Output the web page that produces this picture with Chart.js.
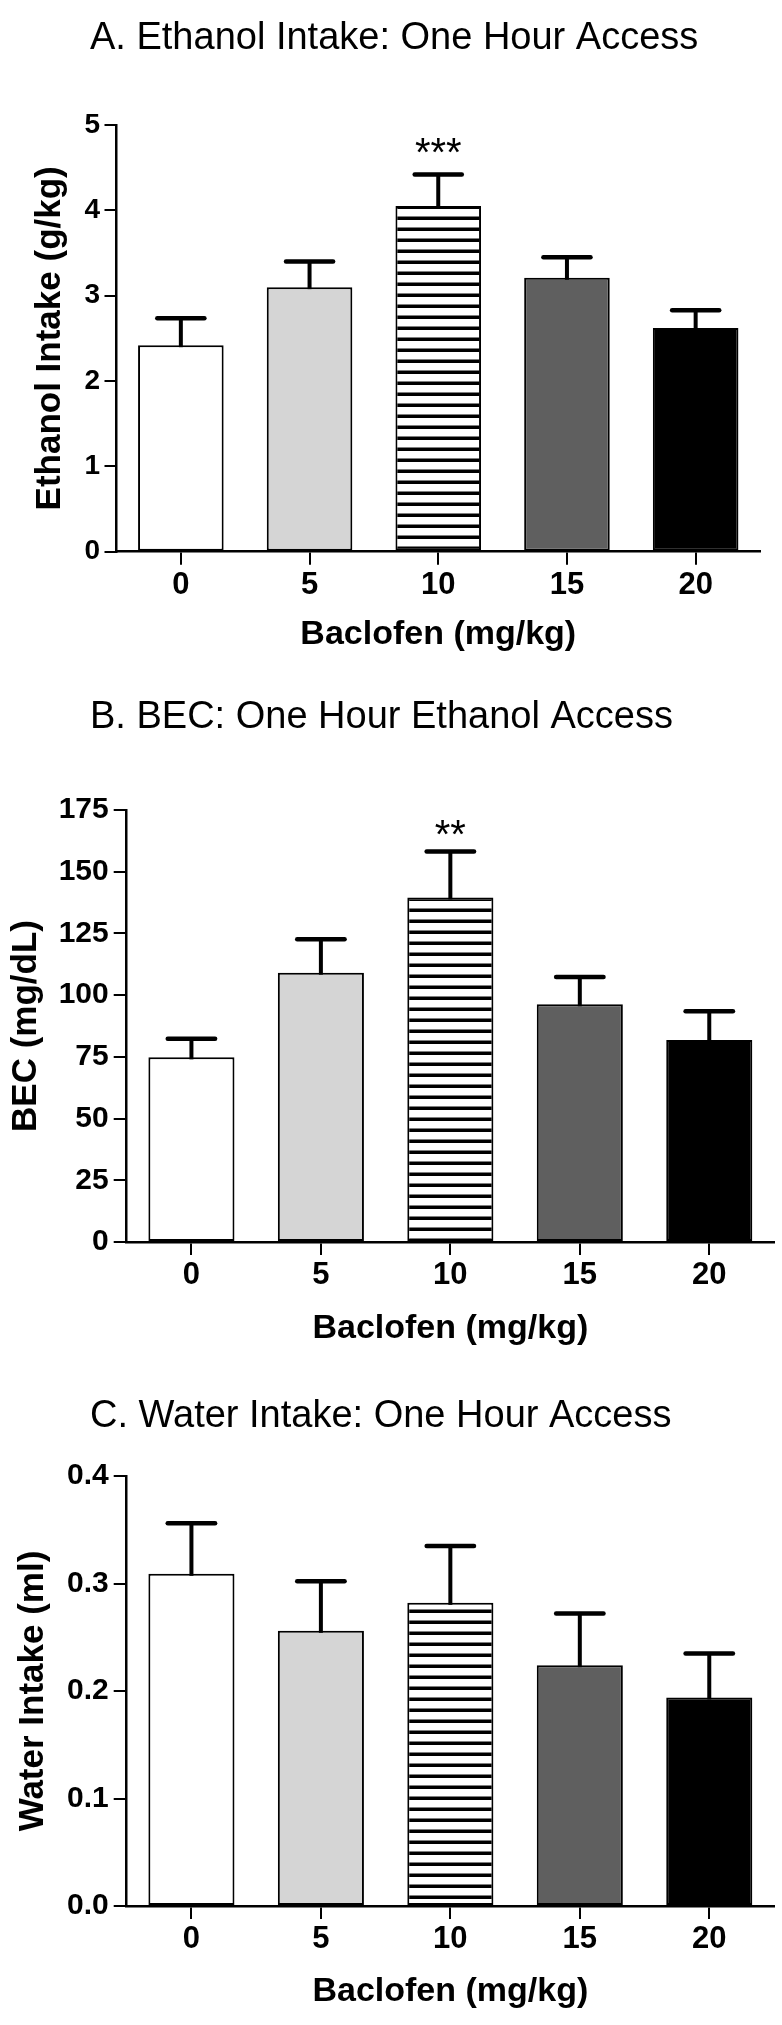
<!DOCTYPE html>
<html>
<head>
<meta charset="utf-8">
<title>Baclofen: ethanol intake, BEC and water intake</title>
<script src="https://cdn.jsdelivr.net/npm/chart.js@4/dist/chart.umd.min.js"></script>
<style>
  html, body { margin: 0; padding: 0; background: #fff; }
  .panel { position: absolute; left: 0; width: 782px; }
  #panelA { top: 0; height: 670px; }
  #panelB { top: 670px; height: 690px; }
  #panelC { top: 1360px; height: 665px; }
</style>
</head>
<body>
<div class="panel" id="panelA"><canvas id="chartA"></canvas></div>
<div class="panel" id="panelB"><canvas id="chartB"></canvas></div>
<div class="panel" id="panelC"><canvas id="chartC"></canvas></div>
<script>
// baclofen doses (x categories)
const doses = ["0", "5", "10", "15", "20"];

// A. ethanol intake (g/kg), mean and SEM
const ethanolMean = [2.42, 3.10, 4.05, 3.21, 2.62];
const ethanolSem = [0.315, 0.30, 0.37, 0.24, 0.21];
const ethanolStars = ["", "", "***", "", ""];
const ethanolTicks = [0, 1, 2, 3, 4, 5];

// B. blood ethanol concentration (mg/dL)
const becMean = [74.8, 109.1, 139.6, 96.3, 81.8];
const becSem = [7.5, 13.5, 18.6, 11.0, 11.7];
const becStars = ["", "", "**", "", ""];
const becTicks = [0, 25, 50, 75, 100, 125, 150, 175];

// C. water intake (ml)
const waterMean = [0.309, 0.256, 0.282, 0.224, 0.194];
const waterSem = [0.047, 0.046, 0.053, 0.048, 0.041];
const waterStars = ["", "", "", "", ""];
const waterTicks = [0, 0.1, 0.2, 0.3, 0.4];

const FONT = "'Liberation Sans', Helvetica, Arial, sans-serif";
const TITLE_X = 90;

// horizontal black stripes for the 10 mg/kg bar
function stripes(canvas) {
  const tile = document.createElement("canvas");
  tile.width = 4;
  tile.height = 11;
  const g = tile.getContext("2d");
  g.fillStyle = "#fff";
  g.fillRect(0, 0, 4, 11);
  g.fillStyle = "#000";
  g.fillRect(0, 7.5, 4, 3.5);
  return canvas.getContext("2d").createPattern(tile, "repeat");
}

// SEM bars (upper only) + significance stars
const errorBars = {
  id: "errorBars",
  afterDatasetsDraw(chart) {
    const { ctx } = chart;
    const y = chart.scales.y;
    const ds = chart.data.datasets[0];
    const meta = chart.getDatasetMeta(0);
    ctx.save();
    ctx.strokeStyle = "#000";
    ctx.fillStyle = "#000";
    meta.data.forEach((bar, i) => {
      const top = y.getPixelForValue(ds.data[i] + ds.sem[i]);
      const half = bar.width * 0.275;
      ctx.lineWidth = 4;
      ctx.lineCap = "butt";
      ctx.beginPath();
      ctx.moveTo(bar.x, bar.y + 2);
      ctx.lineTo(bar.x, top);
      ctx.stroke();
      ctx.lineWidth = 4.5;
      ctx.lineCap = "round";
      ctx.beginPath();
      ctx.moveTo(bar.x - half, top);
      ctx.lineTo(bar.x + half, top);
      ctx.stroke();
      if (ds.stars[i]) {
        ctx.font = "40px " + FONT;
        ctx.textAlign = "center";
        ctx.textBaseline = "alphabetic";
        ctx.fillText(ds.stars[i], bar.x, top - ds.starGap + 23);
      }
    });
    ctx.restore();
  }
};

// panel titles sit flush at the same left margin
const titleLeft = {
  id: "titleLeft",
  afterLayout(chart) {
    if (chart.titleBlock) chart.titleBlock.left = TITLE_X;
  }
};

function makeChart(id, cfg) {
  const canvas = document.getElementById(id);
  const fills = ["#ffffff", "#d5d5d5", stripes(canvas), "#5f5f5f", "#000000"];
  return new Chart(canvas, {
    type: "bar",
    data: {
      labels: doses,
      datasets: [{
        data: cfg.mean,
        sem: cfg.sem,
        stars: cfg.stars,
        starGap: cfg.starGap,
        backgroundColor: fills,
        borderColor: "#000",
        borderWidth: 2,
        borderSkipped: false,
        categoryPercentage: 1,
        barPercentage: 0.665
      }]
    },
    plugins: [errorBars, titleLeft],
    options: {
      responsive: true,
      maintainAspectRatio: false,
      devicePixelRatio: 1,
      animation: false,
      layout: { padding: { left: 0, right: cfg.right, top: 0, bottom: 0 } },
      plugins: {
        legend: { display: false },
        tooltip: { enabled: false },
        title: {
          display: true,
          text: cfg.title,
          align: "start",
          color: "#000",
          font: { family: FONT, size: 38, weight: "normal" },
          padding: { top: cfg.titleTop, bottom: cfg.titleBottom }
        }
      },
      scales: {
        x: {
          grid: { drawOnChartArea: false, drawTicks: true, tickLength: 13, color: "#000", lineWidth: 2, offset: false },
          border: { display: true, color: "#000", width: 2.5 },
          ticks: { color: "#000", padding: cfg.xTickPad, maxRotation: 0, font: { family: FONT, size: 31, weight: "bold" } },
          title: {
            display: true,
            text: "Baclofen (mg/kg)",
            color: "#000",
            font: { family: FONT, size: 34, weight: "bold" },
            padding: { top: 0, bottom: cfg.xTitlePad }
          },
          afterFit: s => { s.height = cfg.xHeight; }
        },
        y: {
          min: cfg.ticks[0],
          max: cfg.ticks[cfg.ticks.length - 1],
          afterBuildTicks: s => { s.ticks = cfg.ticks.map(v => ({ value: v })); },
          grid: { drawOnChartArea: false, drawTicks: true, tickLength: cfg.yTickLen, color: "#000", lineWidth: 2 },
          border: { display: true, color: "#000", width: 2.5 },
          ticks: { color: "#000", padding: cfg.yTickPad, font: { family: FONT, size: cfg.yTickFont, weight: "bold" }, callback: cfg.fmt },
          title: {
            display: true,
            text: cfg.yTitle,
            color: "#000",
            font: { family: FONT, size: 35, weight: "bold" },
            padding: { top: cfg.yTitlePad, bottom: 0 }
          },
          afterFit: s => { s.width = cfg.yWidth; }
        }
      }
    }
  });
}

makeChart("chartA", {
  title: "A. Ethanol Intake: One Hour Access",
  yTitle: "Ethanol Intake (g/kg)",
  mean: ethanolMean, sem: ethanolSem, stars: ethanolStars, ticks: ethanolTicks,
  fmt: v => String(v),
  starGap: 31,
  titleTop: 16.2, titleBottom: 63.2,
  yWidth: 116.5, yTitlePad: 29, yTickFont: 28, yTickPad: 4.5, yTickLen: 12,
  xHeight: 118.3, xTickPad: 1.7, xTitlePad: 14.6, right: 22
});

makeChart("chartB", {
  title: "B. BEC: One Hour Ethanol Access",
  yTitle: "BEC (mg/dL)",
  mean: becMean, sem: becSem, stars: becStars, ticks: becTicks,
  fmt: v => String(v),
  starGap: 26,
  titleTop: 24.7, titleBottom: 69.7,
  yWidth: 126.7, yTitlePad: 5.7, yTickFont: 30, yTickPad: 5, yTickLen: 13,
  xHeight: 118, xTickPad: 1.4, xTitlePad: 10.6, right: 8
});

makeChart("chartC", {
  title: "C. Water Intake: One Hour Access",
  yTitle: "Water Intake (ml)",
  mean: waterMean, sem: waterSem, stars: waterStars, ticks: waterTicks,
  fmt: v => v.toFixed(1),
  starGap: 26,
  titleTop: 33.9, titleBottom: 36.5,
  yWidth: 126.7, yTitlePad: 12, yTickFont: 30, yTickPad: 5, yTickLen: 13,
  xHeight: 119, xTickPad: 1.4, xTitlePad: 12.9, right: 8
});
</script>
</body>
</html>
